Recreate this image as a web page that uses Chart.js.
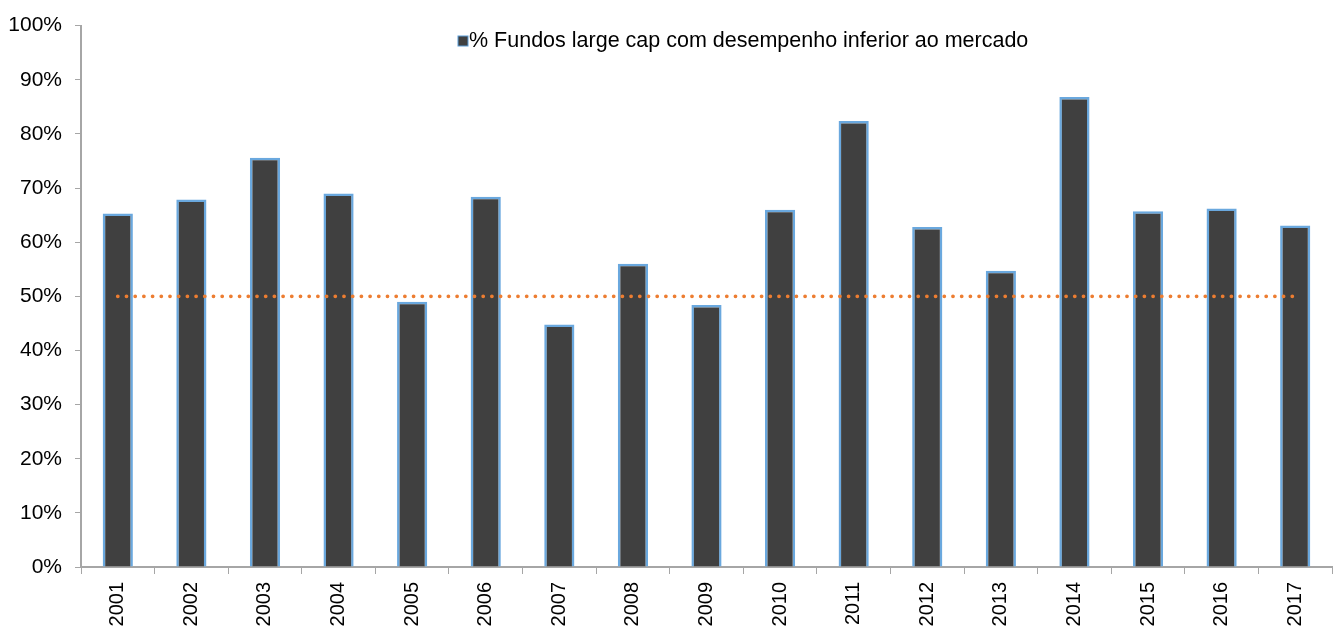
<!DOCTYPE html>
<html>
<head>
<meta charset="utf-8">
<script src="https://cdn.jsdelivr.net/npm/chart.js@4/dist/chart.umd.min.js"></script>
<style>
  html, body { margin: 0; padding: 0; background: #fff; }
  #wrap { width: 1336px; height: 627px; position: relative; }
</style>
</head>
<body>
<div id="wrap"><canvas id="barChart"></canvas></div>
<script>
// data
const years = ['2001', '2002', '2003', '2004', '2005', '2006', '2007', '2008', '2009',
  '2010', '2011', '2012', '2013', '2014', '2015', '2016', '2017'];
const underperform = [65.3, 67.9, 75.6, 69.0, 49.0, 68.4, 44.8, 56.0, 48.4,
  66.0, 82.4, 62.8, 54.7, 86.8, 65.7, 66.2, 63.1];
const reference = years.map(function () { return 50; });
const seriesLabel = '% Fundos large cap com desempenho inferior ao mercado';

const fontFamily = '"Liberation Sans", Arial, sans-serif';

// legend drawn inside the plot, like the original
const legendInside = {
  id: 'legendInside',
  afterDraw: function (chart) {
    const ctx = chart.ctx;
    ctx.save();
    ctx.font = '21.5px ' + fontFamily;
    ctx.textBaseline = 'middle';
    ctx.fillStyle = '#404040';
    ctx.fillRect(458, 36, 10, 10);
    ctx.strokeStyle = '#5b9bd5';
    ctx.lineWidth = 1;
    ctx.strokeRect(458, 36, 10, 10);
    ctx.fillStyle = '#000';
    ctx.fillText(seriesLabel, 469, 41);
    ctx.restore();
  }
};

const area = document.getElementById('barChart').getContext('2d');
const barChart = new Chart(area, {
  type: 'bar',
  data: {
    labels: years,
    datasets: [
      {
        type: 'line',
        label: 'Referência 50%',
        data: reference,
        borderColor: '#ed7d31',
        borderWidth: 3.8,
        borderDash: [0, 8.7],
        borderCapStyle: 'round',
        pointRadius: 0,
        fill: false,
        order: 0
      },
      {
        label: seriesLabel,
        data: underperform,
        backgroundColor: '#404040',
        borderColor: '#6aa8de',
        borderWidth: 2.5,
        barPercentage: 0.41,
        categoryPercentage: 1,
        order: 1
      }
    ]
  },
  options: {
    responsive: true,
    maintainAspectRatio: false,
    animation: false,
    layout: { padding: { top: 22, right: 4, left: 0, bottom: 0 } },
    plugins: {
      legend: { display: false },
      tooltip: { enabled: false }
    },
    scales: {
      x: {
        grid: { drawOnChartArea: false, drawTicks: true, tickLength: 7, color: '#a6a6a6', offset: true },
        border: { color: '#a6a6a6', width: 2 },
        ticks: {
          color: '#000',
          font: { family: fontFamily, size: 20 },
          minRotation: 90,
          maxRotation: 90,
          padding: 8
        },
        afterFit: function (scale) { scale.height = 60; }
      },
      y: {
        min: 0,
        max: 100,
        grid: { drawOnChartArea: false, drawTicks: true, tickLength: 6, color: '#a6a6a6' },
        border: { color: '#a6a6a6', width: 2 },
        ticks: {
          stepSize: 10,
          color: '#000',
          font: { family: fontFamily, size: 21 },
          padding: 13,
          callback: function (v) { return v + '%'; }
        },
        afterFit: function (scale) { scale.width = 81; }
      }
    }
  },
  plugins: [legendInside]
});
</script>
</body>
</html>
